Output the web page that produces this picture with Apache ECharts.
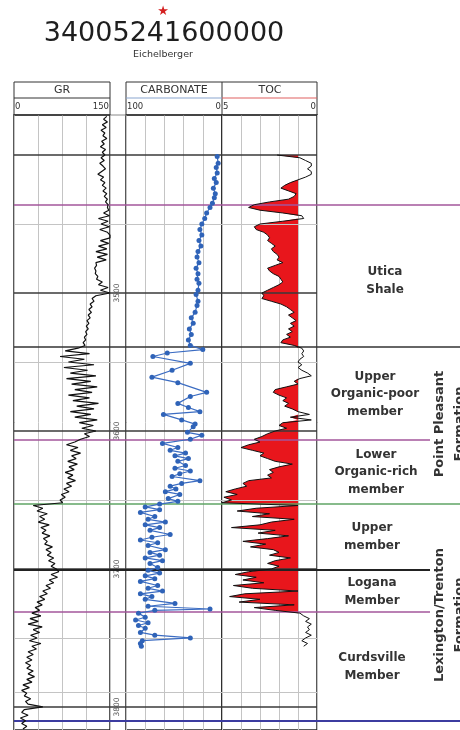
<!DOCTYPE html>
<html><head><meta charset="utf-8">
<script src="https://cdn.jsdelivr.net/npm/echarts@6/dist/echarts.min.js"></script>
<style>html,body{margin:0;padding:0;background:#fff}#c{width:460px;height:730px}</style>
</head><body><div id="c"></div>
<script>
// ---------------- DATA ----------------
const wellId = '34005241600000';
const wellName = 'Eichelberger';

// GR log (API), sampled every 2 ft from 3372 ft
const grTop = 3372, grStep = 2;
const grValues = [
145,140,146,138,144,136,142,139,145,137,
141,135,143,138,142,136,141,134,139,143,
137,131,140,135,142,138,144,139,145,141,
146,143,147,146,148,140,149,132,147,136,
149,134,146,150,150,135,148,132,145,128,
146,130,144,128,129,126,128,127,131,129,
138,132,147,135,150,128,122,125,119,122,
117,121,116,119,114,117,113,116,112,114,
110,112,108,111,100,80,118,72,110,85,
125,78,115,88,128,82,120,90,130,95,
122,85,118,92,132,98,125,88,120,95,
130,102,124,106,128,110,118,104,95,82,
100,88,104,90,97,84,99,86,94,80,
92,84,96,82,90,78,86,74,80,72,
76,30,45,36,52,40,48,38,55,42,
50,44,56,46,52,48,60,50,58,52,
62,54,64,58,66,70,58,68,55,62,
50,57,45,52,40,48,36,44,33,40,
28,42,25,38,22,44,30,40,26,36,
24,42,28,35,22,30,20,28,18,26,
20,30,22,32,20,28,14,24,12,20,
16,26,18,22,45,16,12,22,10,18,
12,20,14
];

// TOC log (wt%), sampled every 2 ft from 3400 ft
const tocTop = 3400, tocStep = 2;
const tocValues = [
2.1,0.9,0.6,0.3,0.3,0.5,0.3,0.3,0.6,1.0,
1.4,1.7,1.9,1.5,1.1,1.2,1.5,2.5,3.3,3.6,
3.0,1.8,0.8,0.7,1.8,3.0,3.3,3.2,2.8,2.6,
2.5,2.6,2.4,2.2,2.4,2.3,2.1,2.0,2.1,1.8,
2.2,2.6,2.5,2.3,2.0,1.9,1.8,2.0,2.3,2.6,
2.9,2.8,2.9,2.4,1.9,1.6,1.4,1.2,1.5,1.3,
1.1,1.4,1.2,1.5,1.3,1.6,1.4,1.8,1.9,1.2,
0.8,0.7,0.8,0.7,0.9,1.0,0.8,1.0,0.8,0.5,
0.3,0.9,1.2,1.0,1.6,2.2,2.3,2.0,1.6,1.8,
1.5,1.7,1.3,1.0,0.4,1.4,0.3,1.8,2.0,1.6,
2.2,2.6,2.9,3.3,3.0,3.6,4.0,3.4,2.8,3.0,
2.6,2.2,1.3,2.0,2.5,2.3,2.6,2.4,3.6,3.9,
3.7,4.3,4.8,4.2,4.9,4.5,5.0,1.0,3.2,4.2,
2.5,3.4,1.2,2.4,3.0,4.5,2.2,3.1,1.5,2.6,
3.9,2.7,3.5,2.3,2.0,2.5,1.4,2.2,2.6,2.0,
2.4,3.6,4.3,3.2,3.9,2.8,4.4,3.4,1.0,3.8,
4.6,3.0,4.1,1.2,3.3,2.2,0.9,0.7,0.4,0.6,
0.3,0.5,0.4,0.6,0.3,0.6,0.8,0.5,0.7
];
const tocCutoff = 1;

// Carbonate samples (depth ft, carbonate %)
const carbDepth = [
3401,3406,3409,3413,3417,3420,3424,3428,3431,3435,
3438,3442,3446,3450,3454,3458,3462,3466,3470,3474,
3478,3482,3486,3490,3493,3498,3501,3506,3509,3514,
3518,3522,3526,3530,3534,3538,3541,3543.5,3546,3551,
3556,3561,3565,3572,3575,3580,3583,3586,3588,3592,
3595,3597,3601,3603,3606,3609,3612,3614,3616,3618,
3620,3622,3625,3627,3629,3631,3633,3636,3638,3640,
3642,3644,3646,3649,3651,3653,3655,3657,3659,3662,
3664,3666,3668,3670,3672,3675,3677,3679,3681,3683,
3686,3688,3690,3692,3694,3696,3699,3701,3703,3705,
3707,3709,3712,3714,3716,3718,3720,3722,3725,3727,
3729,3730,3732,3735,3737,3739,3741,3743,3746,3748,
3750,3752,3754,3756
];
const carbValues = [
5,4,6,5,8,6,9,7,8,10,
12.5,16,18,21,23,21,24,22,25,26,
24,27,25,26,24,25,27,25,26,28,
32,30,34,32,35,33,20,57,72,33,
52,73,46,16,33,46,35,23,61,42,
28,30,36,21,33,62,46,54,38,49,
35,46,38,49,33,44,52,23,42,54,
48,59,44,56,46,65,80,65,85,70,
77,59,80,65,75,54,73,85,67,77,
59,75,65,80,62,75,67,77,65,80,
70,85,67,77,62,85,73,80,49,77,
12.5,70,87,80,90,77,87,80,85,70,
33,83,85,84
];

// Depth ticks and reference lines (ft)
const depthLabels = [3500, 3600, 3700, 3800];
const majorDepthLines = [3400, 3500, 3600, 3700, 3800];
const minorDepthLines = [3450, 3550, 3650, 3750, 3789];
const formationTops = [3436, 3539, 3606.5, 3653, 3700.7, 3731, 3810];

const formationNames = ['Utica\nShale', 'Upper\nOrganic-poor\nmember', 'Lower\nOrganic-rich\nmember',
  'Upper\nmember', 'Logana\nMember', 'Curdsville\nMember'];
const groupNames = ['Point Pleasant\nFormation', 'Lexington/Trenton\nFormation'];

// ---------------- STYLE / LAYOUT ----------------
const topStyle = [
  {color:'#a3569b', w:1.5, x2:460},
  {color:'#333333', w:1.5, x2:460},
  {color:'#a3569b', w:1.5, x2:430},
  {color:'#5fa464', w:1.5, x2:460},
  {color:'#222222', w:1.8, x2:430},
  {color:'#a3569b', w:1.5, x2:430},
  {color:'#3c3ca0', w:1.8, x2:460}
];
const nameLayout = [[385,281],[375,394],[376,472],[372,537],[372,592],[372,667]];
const groupLayout = [[450,424],[450,615]];

const yMin = 3371, yMax = 3816.7;
const TOP = 115, H = 616;
const FONT = '"DejaVu Sans"';

const chart = echarts.init(document.getElementById('c'), null, {renderer:'canvas'});

function hline(d, x1, x2, color, width) {
  return [{coord:[x1, d], lineStyle:{color:color, width:width, type:'solid'}}, {coord:[x2, d]}];
}
const lines = [];
minorDepthLines.forEach(d => lines.push(hline(d, 14, 317, '#c4c4c4', 1)));
majorDepthLines.forEach(d => lines.push(hline(d, 14, 317, '#3a3a3a', 1.5)));
formationTops.forEach((d, i) => lines.push(hline(d, 14, topStyle[i].x2, topStyle[i].color, topStyle[i].w)));

const yAxisBase = {type:'value', inverse:true, min:yMin, max:yMax, show:false};
const splitGrey = {show:true, lineStyle:{color:'#c4c4c4', width:1}};

function T(text, x, y, font, fill, align, rot, lh) {
  return {type:'text', x:x, y:y, rotation:rot||0, z:100,
    style:{text:text, x:0, y:0, font:font, fill:fill||'#222',
      align:align||'center', verticalAlign:'middle', textAlign:align||'center', textVerticalAlign:'middle',
      lineHeight:lh||undefined}};
}
function L(x1,y1,x2,y2,color,w){return {type:'line', z:100, shape:{x1:x1,y1:y1,x2:x2,y2:y2}, style:{stroke:color, lineWidth:w}};}

const graphics = [
  T('\u2605', 163, 12, '13px ' + FONT, '#d42020'),
  T(wellId, 164, 34, '27px ' + FONT, '#1e1e1e'),
  T(wellName, 163, 55, '9.5px ' + FONT, '#333'),
  {type:'rect', z:100, shape:{x:14, y:82, width:96, height:33}, style:{fill:'none', stroke:'#333', lineWidth:1}},
  {type:'rect', z:100, shape:{x:126, y:82, width:191, height:33}, style:{fill:'none', stroke:'#333', lineWidth:1}},
  L(222, 82, 222, 115, '#333', 1),
  L(14, 98, 110, 98, '#333', 1),
  L(126, 98, 222, 98, '#8aa6cf', 1.2),
  L(222, 98, 317, 98, '#e06060', 1.2),
  L(110, 115, 126, 115, '#888', 1),
  T('GR', 62, 90, '11px ' + FONT, '#333'),
  T('CARBONATE', 174, 90, '11px ' + FONT, '#333'),
  T('TOC', 270, 90, '11px ' + FONT, '#333'),
  T('0', 15, 107, '8.5px ' + FONT, '#333', 'left'),
  T('150', 109, 107, '8.5px ' + FONT, '#333', 'right'),
  T('100', 127, 107, '8.5px ' + FONT, '#333', 'left'),
  T('0', 221, 107, '8.5px ' + FONT, '#333', 'right'),
  T('5', 223, 107, '8.5px ' + FONT, '#333', 'left'),
  T('0', 316, 107, '8.5px ' + FONT, '#333', 'right')
];
formationNames.forEach((n, i) => graphics.push(T(n, nameLayout[i][0], nameLayout[i][1], 'bold 12px ' + FONT, '#333', 'center', 0, 17.5)));
groupNames.forEach((n, i) => graphics.push(T(n, groupLayout[i][0], groupLayout[i][1], 'bold 13px ' + FONT, '#333', 'center', Math.PI/2, 20)));

const tocData = tocValues.map((v, i) => [v, tocTop + i * tocStep]);

chart.setOption({
  animation:false,
  backgroundColor:'#fff',
  grid:[
    {left:0, top:TOP, width:460, height:H, show:false},
    {left:14, top:TOP, width:96, height:H, show:true, borderColor:'#222', borderWidth:1.5},
    {left:126, top:TOP, width:96, height:H, show:true, borderColor:'#222', borderWidth:1.5},
    {left:222, top:TOP, width:95, height:H, show:true, borderColor:'#222', borderWidth:1.5}
  ],
  xAxis:[
    {gridIndex:0, type:'value', min:0, max:460, show:false},
    {gridIndex:1, type:'value', min:0, max:150, interval:37.5, axisLabel:{show:false}, axisLine:{show:false}, axisTick:{show:false}, splitLine:splitGrey},
    {gridIndex:2, type:'value', min:0, max:100, interval:20, inverse:true, axisLabel:{show:false}, axisLine:{show:false}, axisTick:{show:false}, splitLine:splitGrey},
    {gridIndex:3, type:'value', min:0, max:5, interval:1, inverse:true, axisLabel:{show:false}, axisLine:{show:false}, axisTick:{show:false}, splitLine:splitGrey}
  ],
  yAxis:[
    Object.assign({gridIndex:0}, yAxisBase),
    {gridIndex:1, type:'value', inverse:true, min:yMin, max:yMax, position:'right',
      axisLine:{show:false}, axisTick:{show:false}, splitLine:{show:false},
      axisLabel:{show:true, customValues:depthLabels, rotate:90, margin:3, fontSize:7.5, color:'#555', fontFamily:'DejaVu Sans',
        formatter:function(v){return String(v);}}},
    Object.assign({gridIndex:2}, yAxisBase),
    Object.assign({gridIndex:3}, yAxisBase)
  ],
  graphic:graphics,
  series:[
    {type:'line', xAxisIndex:0, yAxisIndex:0, data:[[0, yMin]], showSymbol:false, z:2,
      markLine:{silent:true, symbol:['none','none'], label:{show:false}, data:lines, animation:false}},
    {type:'line', name:'GR', xAxisIndex:1, yAxisIndex:1, z:5,
      data:grValues.map((v, i) => [v, grTop + i * grStep]),
      showSymbol:false, lineStyle:{color:'#111', width:1.2}},
    {type:'line', name:'CARBONATE', xAxisIndex:2, yAxisIndex:2, z:5,
      data:carbDepth.map((d, i) => [carbValues[i], d]),
      symbol:'circle', symbolSize:5, itemStyle:{color:'#2f63b8'}, lineStyle:{color:'#3b6cc2', width:1.2}},
    {type:'custom', name:'TOC fill', xAxisIndex:3, yAxisIndex:3, z:4, data:tocData,
      encode:{x:0, y:1},
      renderItem:function(params, api){
        if (params.dataIndex !== 0) return null;
        const pts = tocData.map(p => api.coord([Math.max(p[0], tocCutoff), p[1]]));
        pts.push(api.coord([tocCutoff, tocData[tocData.length-1][1]]));
        pts.push(api.coord([tocCutoff, tocData[0][1]]));
        return {type:'polygon', shape:{points:pts}, style:{fill:'#e8161c', stroke:null}};
      }},
    {type:'line', name:'TOC', xAxisIndex:3, yAxisIndex:3, z:6, data:tocData,
      showSymbol:false, lineStyle:{color:'#111', width:1}}
  ]
});
</script></body></html>
